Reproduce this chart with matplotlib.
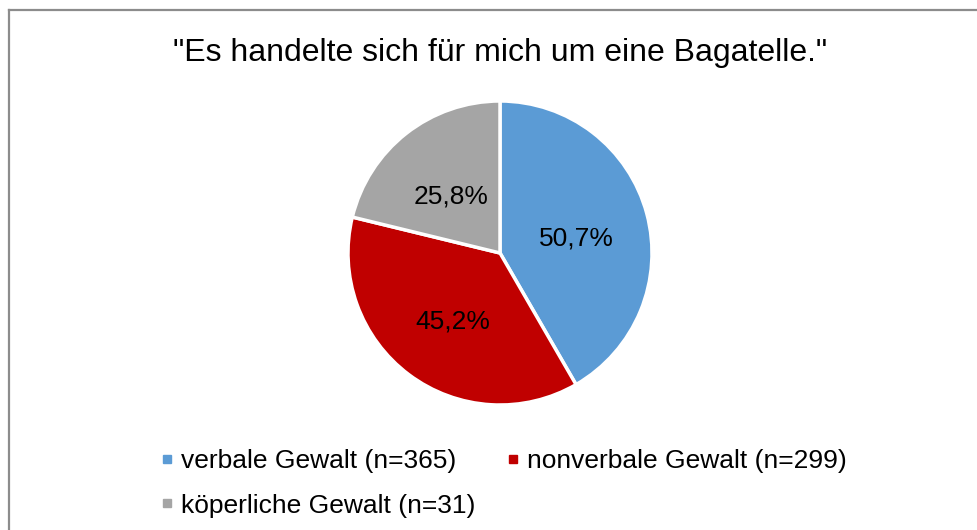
import matplotlib.pyplot as plt
from matplotlib.lines import Line2D

title = "\"Es handelte sich für mich um eine Bagatelle.\""
categories = ["verbale Gewalt (n=365)", "nonverbale Gewalt (n=299)", "köperliche Gewalt (n=31)"]
values = [50.7, 45.2, 25.8]
colors = ["#5b9bd5", "#c00000", "#a5a5a5"]

plt.rcParams["font.family"] = ["Liberation Sans", "DejaVu Sans"]

W, H = 977, 530
fig = plt.figure(figsize=(W / 100, H / 100), dpi=100)

# frame (only top/left visible in the crop)
fig.add_artist(Line2D([9 / W, 1.0], [1 - 9.5 / H, 1 - 9.5 / H], color="#8c8c8c", lw=1.6))
fig.add_artist(Line2D([9 / W, 9 / W], [0.0, 1 - 9.5 / H], color="#8c8c8c", lw=1.6))

cx, cy, r = 500, 253, 152
ax = fig.add_axes([(cx - r) / W, (H - cy - r) / H, 2 * r / W, 2 * r / H])
wedges, texts = ax.pie(
    values,
    colors=colors,
    startangle=90,
    counterclock=False,
    radius=1.0,
    labels=[f"{v:.1f}%".replace(".", ",") for v in values],
    labeldistance=0.52,
    wedgeprops=dict(edgecolor="white", linewidth=2.5),
    textprops=dict(fontsize=19, color="black", ha="center", va="center_baseline"),
)
for t in texts:
    x, y = t.get_position()
    t.set_position((x, y - 0.02))
ax.set_xlim(-1.0, 1.0)
ax.set_ylim(-1.0, 1.0)
ax.set_aspect("equal")

fig.text(cx / W, 1 - 53 / H, title, ha="center", va="center", fontsize=23)

# legend filled column-wise, so reorder to read row-wise
order = [0, 2, 1]
handles = [Line2D([], [], marker="s", linestyle="none", markersize=6,
                  markerfacecolor=colors[i], markeredgecolor=colors[i]) for i in order]
fig.legend(handles, [categories[i] for i in order], loc="upper left",
           bbox_to_anchor=(159 / W, 1 - 449 / H), borderaxespad=0, borderpad=0,
           ncol=2, frameon=False, fontsize=19, handlelength=0.6, handletextpad=0.25,
           columnspacing=1.1, labelspacing=0.78)

fig.savefig("out.png", dpi=100)
